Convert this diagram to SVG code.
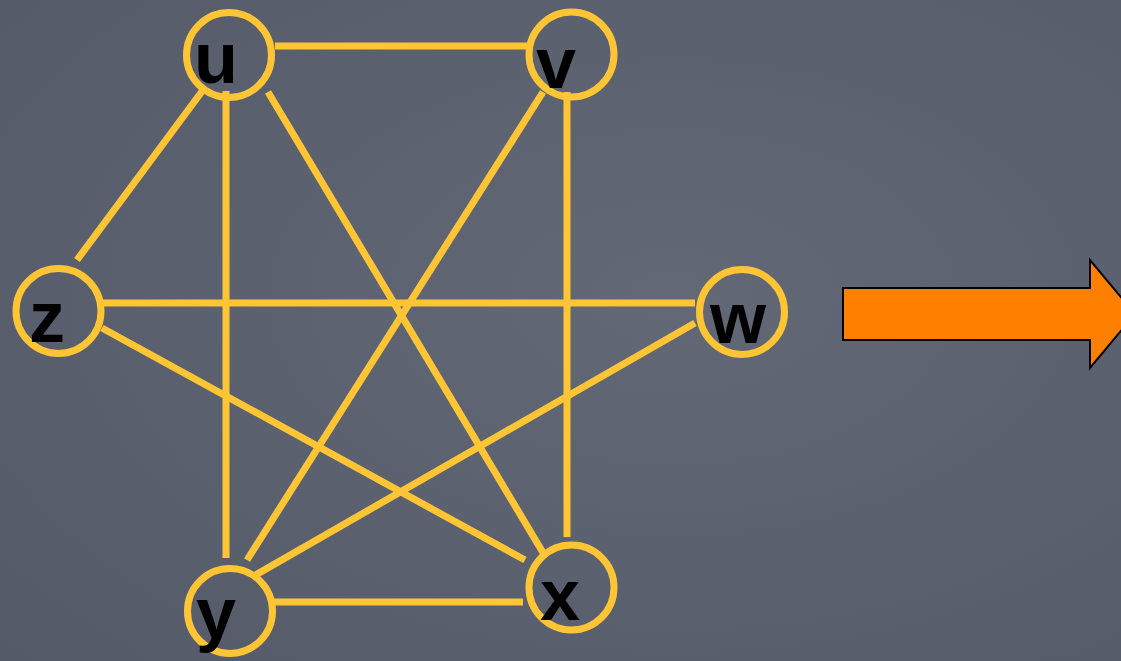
<svg xmlns="http://www.w3.org/2000/svg" width="1121" height="661" viewBox="0 0 1121 661">
  <defs>
    <radialGradient id="bg" cx="0.6" cy="0.45" r="0.8">
      <stop offset="0" stop-color="#636876"/>
      <stop offset="1" stop-color="#555a68"/>
    </radialGradient>
    <style>
      .edge { stroke: #FFC535; stroke-width: 7; fill: none; }
      .node circle { fill: none; stroke: #FFC535; stroke-width: 7; }
      .node text { font-family: "Liberation Sans", Arial, sans-serif; font-weight: bold; font-size: 72px; fill: #000; text-anchor: middle; }
    </style>
  </defs>
  <rect width="1121" height="661" fill="url(#bg)"/>

  <g id="connectors">
    <line class="edge" x1="275" y1="46" x2="527" y2="46"/>
    <line class="edge" x1="203" y1="90" x2="77" y2="260"/>
    <line class="edge" x1="226" y1="91" x2="226" y2="558"/>
    <line class="edge" x1="268" y1="92" x2="545" y2="556"/>
    <line class="edge" x1="543" y1="92" x2="247" y2="560"/>
    <line class="edge" x1="567" y1="92" x2="567" y2="537"/>
    <line class="edge" x1="102" y1="303" x2="695" y2="303"/>
    <line class="edge" x1="102" y1="328" x2="525" y2="560"/>
    <line class="edge" x1="252" y1="577" x2="695" y2="323"/>
    <line class="edge" x1="273" y1="602" x2="523" y2="602"/>
  </g>

  <g id="node-u" class="node">
    <circle cx="229" cy="55" r="42.5"/>
    <text x="216" y="83">u</text>
  </g>
  <g id="node-v" class="node">
    <circle cx="571.5" cy="54.5" r="42.5"/>
    <text x="556" y="88">v</text>
  </g>
  <g id="node-z" class="node">
    <circle cx="58.5" cy="311" r="42.5"/>
    <text x="47" y="342">z</text>
  </g>
  <g id="node-w" class="node">
    <circle cx="742" cy="312" r="42.5"/>
    <text x="738" y="343">w</text>
  </g>
  <g id="node-y" class="node">
    <circle cx="230" cy="611" r="42.5"/>
    <text x="216" y="638">y</text>
  </g>
  <g id="node-x" class="node">
    <circle cx="571.5" cy="587.5" r="42.5"/>
    <text x="560" y="620">x</text>
  </g>

  <g id="arrow">
    <polygon points="843,288 1090,288 1090,260 1135,314 1090,368 1090,340 843,340" fill="#FF8000" stroke="#000" stroke-width="2"/>
  </g>
</svg>
